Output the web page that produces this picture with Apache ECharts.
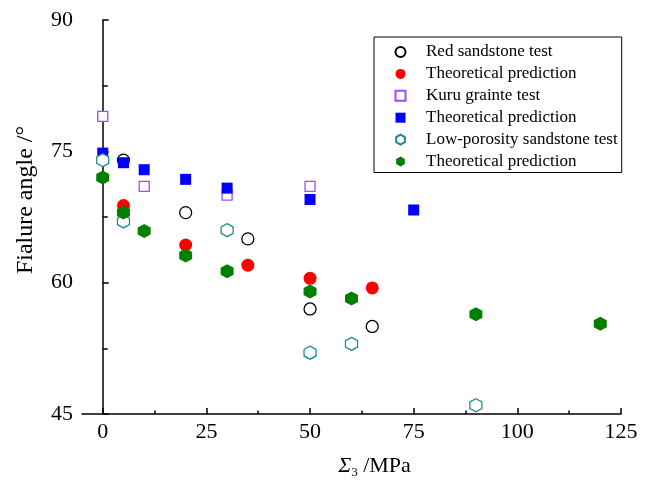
<!DOCTYPE html>
<html><head><meta charset="utf-8">
<script src="https://cdn.jsdelivr.net/npm/echarts@6/dist/echarts.min.js"></script>
<style>html,body{margin:0;padding:0;background:#fff}#c{width:648px;height:484px}</style>
</head><body><div id="c"></div>
<script>
const redTest = [[5,74],[20,68],[35,65],[50,57],[65,55]];
const redPred = [[5,68.8],[20,64.3],[35,62],[50,60.5],[65,59.4]];
const kuruTest = [[0,79],[10,71],[30,70],[50,71]];
const kuruPred = [[0,74.8],[5,73.7],[10,72.9],[20,71.8],[30,70.8],[50,69.5],[75,68.3]];
const lowTest = [[0,74],[5,67],[30,66],[50,52],[60,53],[90,46]];
const lowPred = [[0,72],[5,68],[10,65.9],[20,63.1],[30,61.3],[50,59],[60,58.2],[90,56.4],[120,55.3]];
const xMajor = [0,25,50,75,100,125];
const xMinor = [12.5,37.5,62.5,87.5,112.5];
const names = ['Red sandstone test','Theoretical prediction','Kuru grainte test','Theoretical prediction ','Low-porosity sandstone test','Theoretical prediction  '];

const hex = 'path://M0,-1 L0.866,-0.5 L0.866,0.5 L0,1 L-0.866,0.5 L-0.866,-0.5 Z';
const font = 'Liberation Serif';
const chart = echarts.init(document.getElementById('c'), null, {renderer:'canvas'});
const axisLine = {show:true, lineStyle:{color:'#000', width:1.5}};
chart.setOption({
  animation:false,
  textStyle:{fontFamily:font},
  grid:{left:82, top:20, right:27, bottom:66, containLabel:false},
  legend:{
    orient:'vertical', left:374, top:37,
    padding:[6.5,4,2.5,20.5], itemGap:4.9, itemWidth:10, itemHeight:10,
    borderColor:'#000', borderWidth:1,
    textStyle:{fontFamily:font, fontSize:17, lineHeight:17, color:'#000', padding:[0,0,0,15.5]},
    data:names
  },
  xAxis:[{
    type:'value', min:-5, max:125,
    axisLine:axisLine,
    axisTick:{show:true, inside:true, length:6, customValues:xMajor, lineStyle:{color:'#000',width:1.5}},
    axisLabel:{customValues:xMajor, fontFamily:font, fontSize:22, color:'#000', margin:7},
    splitLine:{show:false},
    name:'{i|Σ}{s|3} /MPa', nameLocation:'middle', nameGap:40,
    nameTextStyle:{fontFamily:font, fontSize:22, color:'#000', padding:[0,0,0,46],
      rich:{i:{fontFamily:font, fontStyle:'italic', fontSize:22}, s:{fontFamily:font, fontSize:13, verticalAlign:'bottom', padding:[12,0,0,0]}}}
  },{
    type:'value', min:-5, max:125, position:'bottom',
    axisLine:{show:false},
    axisTick:{show:true, inside:true, length:3.5, customValues:xMinor, lineStyle:{color:'#000',width:1.5}},
    axisLabel:{show:false},
    splitLine:{show:false}
  }],
  yAxis:{
    type:'value', min:45, max:90, interval:15,
    axisLine:axisLine,
    axisTick:{show:true, inside:true, length:6, lineStyle:{color:'#000',width:1.5}},
    minorTick:{show:true, splitNumber:2, length:5, lineStyle:{color:'#000',width:1.5}},
    axisLabel:{fontFamily:font, fontSize:22, color:'#000', margin:9},
    splitLine:{show:false},
    name:'Fialure angle /°', nameLocation:'middle', nameGap:44,
    nameTextStyle:{fontFamily:font, fontSize:24, color:'#000', padding:[0,0,0,34]}
  },
  series:[
    {name:names[0], type:'scatter', data:redTest, symbol:'circle', symbolSize:12,
     itemStyle:{color:'#fff', borderColor:'#000', borderWidth:1.3, opacity:1}},
    {name:names[1], type:'scatter', data:redPred, symbol:'circle', symbolSize:13,
     itemStyle:{color:'#ff0000', opacity:1}},
    {name:names[2], type:'scatter', data:kuruTest, symbol:'rect', symbolSize:10,
     itemStyle:{color:'#fff', borderColor:'#9a4cff', borderWidth:1.3, opacity:1}},
    {name:names[3], type:'scatter', data:kuruPred, symbol:'rect', symbolSize:11,
     itemStyle:{color:'#0000ff', opacity:1}},
    {name:names[4], type:'scatter', data:lowTest, symbol:hex, symbolSize:[12,13],
     itemStyle:{color:'#fff', borderColor:'#1a8a8a', borderWidth:1.3, opacity:1}},
    {name:names[5], type:'scatter', data:lowPred, symbol:hex, symbolSize:[13,14],
     itemStyle:{color:'#007f00', opacity:1}}
  ]
});
</script></body></html>
